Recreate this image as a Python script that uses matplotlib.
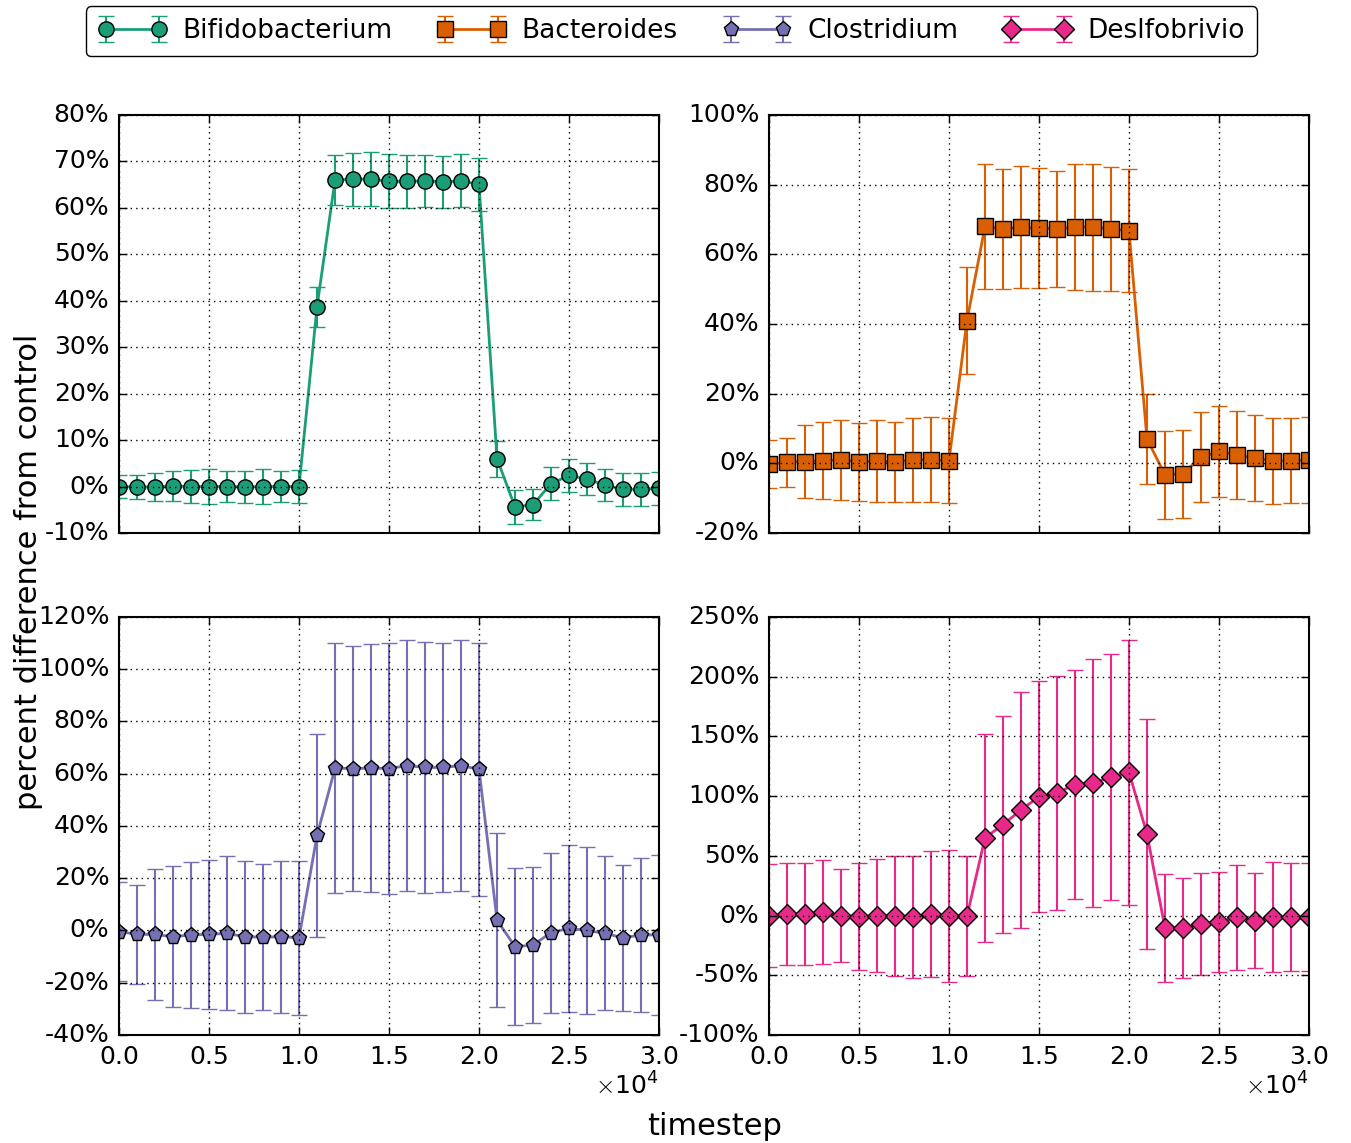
import numpy as np
import matplotlib
matplotlib.use("Agg")
import matplotlib.pyplot as plt
from matplotlib.ticker import FuncFormatter, MultipleLocator

# ── Data ───────────────────────────────────────────────────────
TIMESTEPS = [0, 1000, 2000, 3000, 4000, 5000, 6000, 7000, 8000, 9000, 10000,
             11000, 12000, 13000, 14000, 15000, 16000, 17000, 18000, 19000, 20000,
             21000, 22000, 23000, 24000, 25000, 26000, 27000, 28000, 29000, 30000]

bifido_mean = [0.0, -0.1, -0.1, 0.1, 0.0, 0.0, 0.0, -0.1, 0.0, 0.0, 0.0,
               38.7, 66.0, 66.2, 66.2, 65.7, 65.7, 65.8, 65.6, 65.8, 65.1,
               6.0, -4.4, -3.9, 0.6, 2.4, 1.6, 0.3, -0.6, -0.6, -0.4]
bifido_err = [2.5, 2.5, 3.0, 3.3, 3.5, 3.7, 3.3, 3.5, 3.7, 3.3, 3.5,
              4.3, 5.3, 5.7, 5.8, 5.8, 5.7, 5.6, 5.6, 5.7, 5.7,
              3.9, 3.6, 3.3, 3.6, 3.6, 3.5, 3.4, 3.6, 3.6, 3.6]

bactero_mean = [-0.2, 0.3, 0.5, 0.8, 1.0, 0.5, 0.6, 0.5, 1.0, 1.0, 0.8,
                41.0, 68.0, 67.3, 67.8, 67.5, 67.3, 67.8, 67.8, 67.3, 66.8,
                7.0, -3.3, -3.0, 1.8, 3.4, 2.4, 1.5, 0.7, 0.7, 1.0]
bactero_err = [7.0, 7.0, 10.5, 11.0, 11.4, 11.2, 11.8, 11.5, 12.0, 12.2, 12.3,
               15.3, 18.0, 17.2, 17.5, 17.3, 16.7, 18.0, 18.2, 17.7, 17.6,
               12.8, 12.6, 12.6, 12.8, 13.1, 12.6, 12.4, 12.4, 12.2, 12.4]

clostri_mean = [-0.4, -1.5, -1.5, -2.4, -1.7, -1.5, -1.1, -2.4, -2.6, -2.4, -2.8,
                36.4, 62.1, 62.0, 62.1, 62.0, 63.1, 62.4, 62.4, 63.1, 61.7,
                4.0, -6.2, -5.6, -0.8, 0.8, 0.0, -1.1, -2.8, -1.7, -1.7]
clostri_err = [19.0, 19.0, 25.0, 27.0, 28.0, 28.5, 29.5, 29.0, 28.0, 29.0, 29.5,
               39.0, 47.9, 47.0, 47.5, 48.0, 48.0, 48.0, 47.8, 48.0, 48.5,
               33.4, 30.0, 30.0, 30.6, 32.0, 32.0, 29.5, 28.0, 29.5, 30.5]

desulfo_mean = [0.0, 1.3, 1.3, 2.8, 0.0, -0.9, 0.0, -0.5, -0.9, 1.3, -0.5,
                -0.5, 65.0, 76.2, 88.4, 99.6, 102.7, 109.7, 111.0, 115.8, 120.0,
                68.3, -10.4, -10.4, -7.0, -5.6, -1.4, -4.2, -1.4, -1.4, -1.4]
desulfo_err = [43.0, 43.0, 43.0, 43.6, 39.0, 44.6, 47.5, 50.0, 51.0, 52.7, 55.0,
               50.0, 87.0, 91.0, 99.0, 97.0, 98.0, 96.0, 104.0, 103.0, 111.0,
               96.0, 45.0, 42.0, 43.0, 42.0, 44.0, 40.0, 46.0, 45.0, 45.0]

NAMES   = ["Bifidobacterium", "Bacteroides", "Clostridium", "Deslfobrivio"]
COLORS  = ["#1b9e77", "#d95f02", "#7570b3", "#e7298a"]
MARKERS = ["o", "s", "p", "D"]
YLIMS   = [(-10, 80), (-20, 100), (-40, 120), (-100, 250)]
YSTEPS  = [10, 20, 20, 50]
# ───────────────────────────────────────────────────────────────

plt.style.use("classic")
plt.rcParams["font.family"] = "DejaVu Sans"
plt.rcParams["font.size"] = 18
plt.rcParams["axes.formatter.use_mathtext"] = True

fig = plt.figure(figsize=(13.51, 11.43), dpi=100, facecolor="white")
lefts = [0.0881, 0.5692, 0.0881, 0.5692]
bottoms = [0.5337, 0.5337, 0.0945, 0.0945]
width, height = 0.3997, 0.3657

series = [(bifido_mean, bifido_err), (bactero_mean, bactero_err),
          (clostri_mean, clostri_err), (desulfo_mean, desulfo_err)]

handles = []
for i, (mean, err) in enumerate(series):
    ax = fig.add_axes([lefts[i], bottoms[i], width, height])
    h = ax.errorbar(TIMESTEPS, mean, yerr=err, color=COLORS[i], ecolor=COLORS[i],
                    marker=MARKERS[i], markersize=11 if MARKERS[i] != "D" else 10,
                    markerfacecolor=COLORS[i], markeredgecolor="black",
                    markeredgewidth=1, linewidth=2, elinewidth=1.5,
                    capsize=5.5, capthick=1.5, label=NAMES[i])
    handles.append(h)
    ax.set_xlim(0, 30000)
    ax.set_ylim(*YLIMS[i])
    ax.yaxis.set_major_locator(MultipleLocator(YSTEPS[i]))
    ax.yaxis.set_major_formatter(FuncFormatter(lambda v, p: "%d%%" % round(v)))
    ax.xaxis.set_major_locator(MultipleLocator(5000))
    ax.ticklabel_format(axis="x", style="sci", scilimits=(0, 0))
    ax.grid(True, linestyle=":", color="black", linewidth=1)
    ax.tick_params(labelsize=18, length=6, width=1, direction="in", pad=7)
    ax.xaxis.get_offset_text().set_fontsize(18)
    if i < 2:
        ax.tick_params(labelbottom=False)
    for s in ax.spines.values():
        s.set_linewidth(1.5)

fig.legend(handles, NAMES, loc="upper center", bbox_to_anchor=(0.497, 1.006),
           ncol=4, numpoints=2, fontsize=19, frameon=True, fancybox=True,
           edgecolor="black", handlelength=2.6, columnspacing=1.7,
           handletextpad=0.6, borderpad=0.45)

fig.text(0.021, 0.5, "percent difference from control", rotation=90,
         ha="center", va="center", fontsize=22)
fig.text(0.529, 0.014, "timestep", ha="center", va="center", fontsize=22)

plt.savefig("out.png", dpi=100, facecolor="white")
